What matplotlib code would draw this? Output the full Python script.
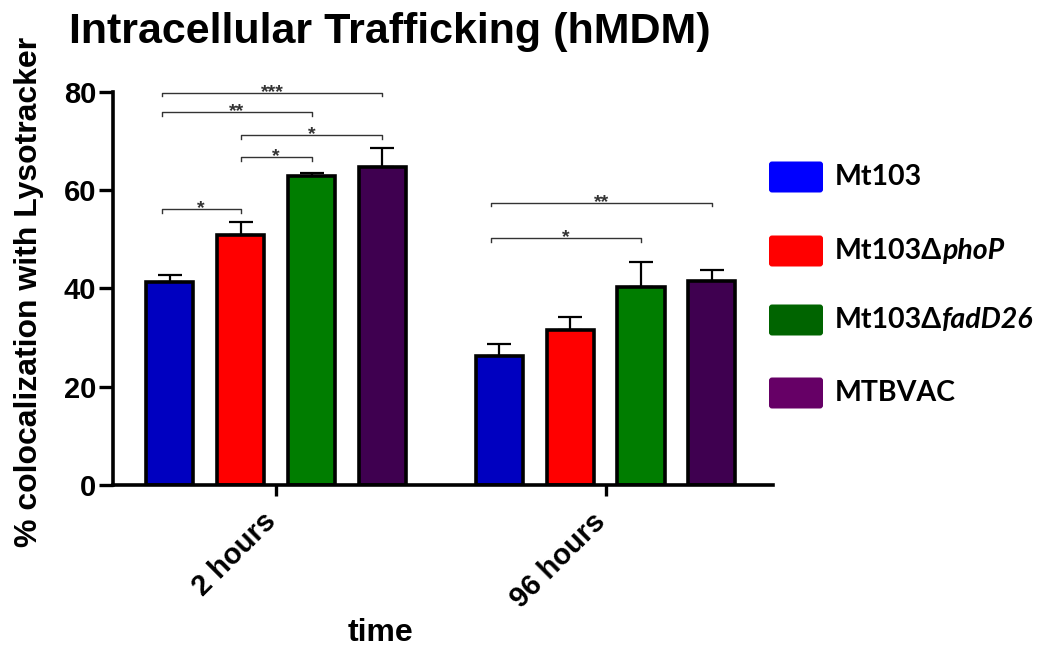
import matplotlib
matplotlib.use('Agg')
import matplotlib.pyplot as plt
import matplotlib.transforms as mtransforms
import numpy as np
from matplotlib.patches import FancyBboxPatch

# colocalization data (% of bacteria in Lysotracker+ compartments)
groups = ['2 hours', '96 hours']
strains = ['Mt103', 'Mt103Δ', 'Mt103Δ', 'MTBVAC']
genes = ['', 'phoP', 'fadD26', '']
means_2h = [41.3, 50.8, 62.8, 64.7]
sem_2h = [1.5, 2.7, 0.8, 3.9]
means_96h = [26.2, 31.5, 40.3, 41.6]
sem_96h = [2.5, 2.7, 5.1, 2.1]

# significance brackets: (group, bar a, bar b, height, label)
brackets = [
    (0, 0, 3, 79.8, '***'),
    (0, 0, 2, 75.9, '**'),
    (0, 1, 3, 71.2, '*'),
    (0, 1, 2, 66.7, '*'),
    (0, 0, 1, 56.1, '*'),
    (1, 0, 3, 57.5, '**'),
    (1, 0, 2, 50.2, '*'),
]

bar_colors = ['#0000c0', '#ff0000', '#007d00', '#3f0050']
legend_colors = ['#0000ff', '#ff0000', '#006400', '#660066']

plt.rcParams['font.family'] = ['Liberation Sans', 'DejaVu Sans']

fig = plt.figure(figsize=(10.44, 6.51), dpi=100)
W, H = 1044, 651
ax = fig.add_axes([113 / W, 1 - 485 / H, (773 - 113) / W, (485 - 92) / H])

step = 0.215
width = 0.143
offsets = (np.arange(4) - 1.5) * step
means = [means_2h, means_96h]
sems = [sem_2h, sem_96h]

for g in range(2):
    xs = g + offsets
    ax.errorbar(xs, means[g], yerr=[np.zeros(4), sems[g]], fmt='none',
                ecolor='black', elinewidth=1.6, capsize=8.5, capthick=1.6,
                zorder=1)
    ax.bar(xs, means[g], width=width, color=bar_colors,
           edgecolor='black', linewidth=2.6, zorder=2)

for g, a, b, h, lab in brackets:
    x1 = g + offsets[a] - (0.025 if a == 0 else 0)
    x2 = g + offsets[b]
    ax.plot([x1, x1, x2, x2], [h - 0.7, h, h, h - 0.7], color='#333333',
            lw=1.0, clip_on=False)
    ax.annotate(lab, xy=((x1 + x2) / 2, h), xytext=(0, -3),
                textcoords='offset points', ha='center', va='baseline',
                fontsize=14, fontweight='bold', color='#333333',
                annotation_clip=False)

ax.set_xlim(-0.495, 1.508)
ax.set_ylim(0, 80)
ax.set_yticks([0, 20, 40, 60, 80])
ax.set_xticks([0, 1])
ax.set_xticklabels(groups, rotation=45, ha='right', rotation_mode='anchor')

for side in ['top', 'right']:
    ax.spines[side].set_visible(False)
for side in ['left', 'bottom']:
    ax.spines[side].set_linewidth(2.6)

ax.tick_params(axis='y', length=10, width=2.4, labelsize=21, pad=2)
ax.tick_params(axis='x', length=8, width=2.4, labelsize=21, pad=8)
shift = mtransforms.ScaledTranslation(-14 / 100, 0, fig.dpi_scale_trans)
for lbl in ax.get_xticklabels():
    lbl.set_fontweight('bold')
    lbl.set_transform(lbl.get_transform() + shift)
for lbl in ax.get_yticklabels():
    lbl.set_fontweight('bold')

ax.set_ylabel('% colocalization with Lysotracker', fontsize=23,
              fontweight='bold')
ax.yaxis.set_label_coords(-0.105, 0.49)
ax.set_xlabel('time', fontsize=23, fontweight='bold', va='top')
ax.xaxis.set_label_coords(0.406, -0.338)

fig.text(390 / W, 1 - 12 / H, 'Intracellular Trafficking (hMDM)',
         ha='center', va='top', fontsize=31, fontweight='bold')

# legend drawn on an overlay in pixel units
lax = fig.add_axes([0, 0, 1, 1])
lax.set_xlim(0, W)
lax.set_ylim(H, 0)
lax.axis('off')
row_y = [177, 251, 320, 393]
leg_font = ['Lato', 'DejaVu Sans']
for name, gene, col, y in zip(strains, genes, legend_colors, row_y):
    lax.add_patch(FancyBboxPatch((769, y - 15.5), 54, 31,
                                 boxstyle='round,pad=0,rounding_size=3',
                                 facecolor=col, edgecolor='none'))
    t = lax.text(835, y, name, va='center', ha='left', fontsize=20.5,
                 fontweight='bold', family=leg_font)
    if gene:
        lax.annotate(gene, xy=(1, 0), xycoords=t, va='bottom', ha='left',
                     fontsize=20.5, fontweight='bold', fontstyle='italic',
                     family=leg_font)

fig.savefig('out.png', dpi=100)
